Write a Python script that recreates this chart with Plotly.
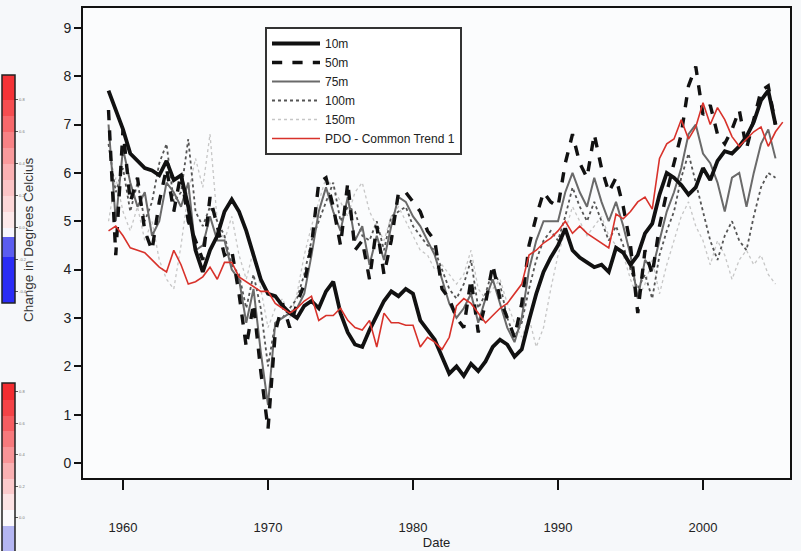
import numpy as np
import plotly.graph_objects as go

# Half-year time axis (decimal years)
years = [1959.0 + 0.5 * i for i in range(94)]

t10 = [7.7, 7.3, 6.9, 6.4, 6.25, 6.1, 6.05, 5.95, 6.25, 5.85,
       5.95, 5.3, 4.4, 3.95, 4.4, 4.7, 5.2, 5.45, 5.2, 4.8,
       4.3, 3.8, 3.5, 3.45, 3.25, 3.1, 3.0, 3.25, 3.35, 3.2,
       3.55, 3.75, 3.1, 2.7, 2.45, 2.4, 2.75, 3.05, 3.35, 3.55,
       3.45, 3.6, 3.5, 2.95, 2.75, 2.55, 2.2, 1.85, 2.0, 1.8,
       2.05, 1.9, 2.1, 2.4, 2.55, 2.45, 2.2, 2.35, 2.95, 3.5,
       3.95, 4.25, 4.5, 4.85, 4.4, 4.25, 4.15, 4.05, 4.1, 3.95,
       4.45, 4.35, 4.1, 4.3, 4.75, 4.95, 5.55, 6.0, 5.9, 5.75,
       5.55, 5.7, 6.1, 5.85, 6.25, 6.45, 6.4, 6.55, 6.75, 7.05,
       7.5, 7.7, 7.0, None]

t50 = [7.3, 4.3, 6.9, 5.4, 5.9, 4.8, 4.4, 5.4, 6.1, 5.2,
       6.0, 5.0, 4.6, 4.2, 5.5, 4.9, 4.3, 4.4, 3.5, 2.4,
       3.3, 1.9, 0.7, 2.7, 3.3, 2.8, 3.3, 3.7, 4.5, 5.8,
       5.9, 5.3, 4.5, 5.8, 4.4, 4.6, 3.8, 4.9, 3.9, 4.6,
       5.6, 5.6, 5.4, 5.2, 4.8, 4.6, 3.6, 3.4, 3.0, 2.8,
       3.8, 2.7, 3.3, 4.1, 3.4, 3.0, 2.6, 3.3, 4.5, 5.1,
       5.6, 5.4, 5.3, 6.2, 6.8, 6.2, 5.9, 6.8, 6.1, 5.6,
       5.9, 5.3, 4.5, 3.1, 4.4, 3.9, 4.9, 5.6, 6.2, 6.8,
       7.8, 8.2, 7.2, 7.4, 6.8, 6.6, 6.9, 7.3, 6.5, 7.1,
       7.7, 7.8, 7.0, None]

t75 = [7.0, 5.0, 6.5, 5.8, 5.3, 5.6, 4.7, 5.0, 5.8, 5.6,
       5.3, 5.8, 4.4, 4.5, 5.1, 4.6, 4.6, 4.0, 3.8, 2.9,
       3.6, 2.3, 1.2, 2.9, 3.0, 3.1, 3.2, 3.5, 4.3, 5.2,
       5.7, 5.2, 4.8, 5.5, 4.6, 4.9, 4.1, 4.7, 4.2, 4.9,
       5.5, 5.4, 5.1, 4.9, 4.6, 4.3, 3.8, 3.3, 3.0, 3.2,
       3.5, 2.9, 3.4, 3.8, 3.3, 2.8, 2.5, 3.0, 4.0, 4.6,
       5.0, 5.0, 5.0, 5.6, 6.0, 5.6, 5.3, 5.9, 5.4, 5.0,
       5.4, 4.9, 4.3, 3.4, 4.2, 4.0, 4.6, 5.2, 5.6, 6.1,
       6.8, 7.0, 6.4, 6.2, 5.8, 5.2, 5.9, 6.0, 5.3, 6.0,
       6.6, 6.9, 6.3, None]

t100 = [6.6, 5.6, 6.1, 5.2, 5.8, 5.0, 5.4, 6.2, 6.6, 5.4,
        5.6, 6.7, 5.2, 4.9, 5.3, 5.0, 4.7, 4.1, 3.9, 3.2,
        3.9, 3.2, 2.0, 2.9, 3.0, 3.2, 3.4, 3.9, 4.6, 5.0,
        5.4, 5.8, 5.0, 5.3, 5.2, 4.7, 4.6, 5.0, 4.4, 5.1,
        5.2, 5.3, 4.9, 4.7, 4.5, 4.4, 4.0, 3.6, 3.4, 3.7,
        4.2, 3.2, 3.5, 4.0, 3.7, 3.0, 2.6, 2.9, 3.6, 4.2,
        4.6, 4.8, 4.6, 5.1, 5.7, 5.3, 5.0, 5.4, 5.0, 4.6,
        4.9, 4.5, 4.0, 3.6, 3.9, 3.4, 4.3, 4.8, 5.2, 5.9,
        6.4, 5.8, 5.2, 4.6, 4.2, 4.7, 5.0, 4.6, 4.4, 5.1,
        5.7, 6.0, 5.9, None]

t150 = [5.0, 5.9, 5.2, 4.8, 5.3, 4.6, 5.0, 4.2, 3.8, 3.6,
        4.5, 5.6, 6.3, 5.7, 6.8, 5.0, 4.6, 5.1, 4.3, 3.8,
        4.4, 3.6, 2.8, 3.2, 3.4, 3.0, 3.5, 4.3, 4.9, 5.4,
        5.9, 5.7, 5.4, 5.1, 5.6, 5.8, 5.2, 4.9, 4.6, 5.1,
        5.3, 5.0, 4.7, 4.4, 4.3, 4.0, 4.1, 3.9, 3.7, 3.9,
        4.4, 3.6, 3.4, 3.6, 3.8, 3.3, 2.9, 2.6, 3.0, 2.4,
        2.8, 3.6, 4.3, 4.8, 5.3, 5.0, 4.7, 4.9, 5.1, 4.7,
        4.5, 4.3, 3.8, 3.4, 3.7, 4.2, 3.5, 4.1, 4.6, 5.1,
        5.4, 4.9, 4.6, 4.1, 4.6, 4.3, 3.8, 4.2, 4.4, 4.1,
        4.3, 3.9, 3.7, None]

pdo = [4.8, 4.9, 4.7, 4.45, 4.4, 4.35, 4.2, 4.05, 3.95, 4.4,
       4.1, 3.7, 3.75, 3.85, 4.05, 3.8, 4.15, 4.15, 3.85, 3.75,
       3.65, 3.55, 3.55, 3.3, 3.2, 3.1, 3.2, 3.35, 3.45, 2.95,
       3.05, 3.05, 3.2, 2.95, 2.8, 2.75, 2.95, 2.4, 3.1, 2.9,
       2.9, 2.85, 2.85, 2.4, 2.6, 2.5, 2.35, 2.6, 3.25, 3.4,
       3.3, 3.1, 2.9, 3.05, 3.2, 3.3, 3.5, 3.7, 4.3, 4.4,
       4.55, 4.65, 4.8, 5.0, 4.75, 4.9, 4.75, 4.65, 4.55, 4.45,
       5.15, 5.05, 5.2, 5.4, 5.5, 5.25, 6.3, 6.6, 6.7, 7.1,
       6.7, 6.95, 7.45, 7.0, 7.35, 7.1, 6.75, 6.55, 6.7, 6.85,
       6.95, 6.55, 6.85, 7.05]

x_ticks = [1960, 1970, 1980, 1990, 2000]
y_ticks = [0, 1, 2, 3, 4, 5, 6, 7, 8, 9]

series_names = ["10m", "50m", "75m", "100m", "150m", "PDO - Common Trend 1"]

# colour-bar decorations (values and colours)
cb_top_levels = [-0.47, -0.18, -0.06, 0.0, 0.1, 0.2, 0.3, 0.4, 0.5, 0.6, 0.7, 0.8, 0.956]
cb_top_colors = ["#2a2cf6", "#5b5df0", "#f6f6fd", "#fde9ea", "#fcd7d8", "#fbc4c6",
                 "#fab1b3", "#f99a9c", "#f88285", "#f7686b", "#f54d50", "#f43236"]
cb_bot_levels = [-0.45, -0.05, 0.05, 0.15, 0.25, 0.35, 0.45, 0.55, 0.65, 0.75, 0.857]
cb_bot_colors = ["#b4b6f2", "#fbfafd", "#fde3e4", "#fccacc", "#fab0b2", "#f99497",
                 "#f7797c", "#f65d61", "#f44347", "#f32c30"]
cb_top_ticks = [-0.4, -0.2, 0.0, 0.2, 0.4, 0.6, 0.8]
cb_bot_ticks = [0.0, 0.2, 0.4, 0.6, 0.8]


def stepped_scale(levels, colors):
    lo, hi = levels[0], levels[-1]
    scale = []
    for i, c in enumerate(colors):
        a = (levels[i] - lo) / (hi - lo)
        b = (levels[i + 1] - lo) / (hi - lo)
        scale.append([a, c])
        scale.append([b, c])
    scale[0][0] = 0.0
    scale[-1][0] = 1.0
    return scale


fig = go.Figure()

styles = {
    "150m": dict(color="#c6c6c6", width=1.3, dash="dot"),
    "100m": dict(color="#555555", width=1.8, dash="dot"),
    "75m": dict(color="#6a6a6a", width=2.0, dash="solid"),
    "50m": dict(color="#111111", width=3.4, dash="dash"),
    "10m": dict(color="#111111", width=3.8, dash="solid"),
    "PDO - Common Trend 1": dict(color="#d8322b", width=1.6, dash="solid"),
}
data_map = {"10m": t10, "50m": t50, "75m": t75, "100m": t100, "150m": t150,
            "PDO - Common Trend 1": pdo}

for name in ["150m", "100m", "75m", "50m", "10m", "PDO - Common Trend 1"]:
    fig.add_trace(go.Scatter(
        x=years, y=data_map[name], mode="lines", name=name,
        line=styles[name], legendrank=series_names.index(name) + 1,
        connectgaps=False,
    ))

# Decorative colour bars on the left
plot_l, plot_r, plot_t, plot_b = 83, 790, 8, 478
pw, ph = plot_r - plot_l, plot_b - plot_t


def px_to_paper_x(px):
    return (px - plot_l) / pw


def px_to_paper_y(py):
    return (plot_b - py) / ph


for levels, colors, ticks, top_px, bot_px in [
    (cb_top_levels, cb_top_colors, cb_top_ticks, 75, 303),
    (cb_bot_levels, cb_bot_colors, cb_bot_ticks, 383, 383 + (cb_bot_levels[-1] - cb_bot_levels[0]) * 157.5),
]:
    fig.add_trace(go.Scatter(
        x=[None], y=[None], mode="markers", showlegend=False, hoverinfo="skip",
        marker=dict(
            color=[0], cmin=levels[0], cmax=levels[-1],
            colorscale=stepped_scale(levels, colors), showscale=True,
            colorbar=dict(
                x=px_to_paper_x(2), xanchor="left", xref="paper",
                y=px_to_paper_y(bot_px), yanchor="bottom", yref="paper",
                len=(bot_px - top_px) / ph, lenmode="fraction",
                thickness=13, thicknessmode="pixels",
                xpad=0, ypad=0, outlinewidth=1.5, outlinecolor="#222",
                tickvals=ticks, ticktext=[f"{t:.1f}" for t in ticks],
                ticks="outside", ticklen=3, tickwidth=1, tickcolor="#555",
                tickfont=dict(size=4, color="#777"),
            ),
        ),
    ))

fig.add_annotation(
    text="Change in Degrees Celcius", xref="paper", yref="paper",
    x=px_to_paper_x(28), y=px_to_paper_y(240), textangle=-90,
    showarrow=False, font=dict(size=13.5, color="#333"),
    xanchor="center", yanchor="middle",
)

fig.update_layout(
    width=801, height=551,
    margin=dict(l=plot_l, r=801 - plot_r, t=plot_t, b=551 - plot_b, autoexpand=False),
    paper_bgcolor="#f6f8fa", plot_bgcolor="#fbfcfd",
    font=dict(family="Liberation Sans, Arial, sans-serif", color="#222"),
    showlegend=True,
    legend=dict(
        x=px_to_paper_x(265), y=px_to_paper_y(27), xanchor="left", yanchor="top",
        bgcolor="#ffffff", bordercolor="#333", borderwidth=2,
        font=dict(size=12, color="#222"), itemwidth=48,
        traceorder="normal",
    ),
    xaxis=dict(
        range=[1957.24, 2006.0], tickvals=x_ticks, ticktext=[str(v) for v in x_ticks],
        showgrid=False, zeroline=False, showline=True, mirror=True,
        linecolor="#111", linewidth=2, ticks="outside", ticklen=10, tickwidth=2,
        tickcolor="#111", ticklabelstandoff=26, tickfont=dict(size=13),
        title=dict(text="Date", standoff=0, font=dict(size=13)),
        automargin=False,
    ),
    yaxis=dict(
        range=[-0.31, 9.41], tickvals=y_ticks, ticktext=[str(v) for v in y_ticks],
        showgrid=False, zeroline=False, showline=True, mirror=True,
        linecolor="#111", linewidth=2, ticks="outside", ticklen=7, tickwidth=2,
        tickcolor="#111", tickfont=dict(size=14), automargin=False,
    ),
)

fig.write_html("out.html")
